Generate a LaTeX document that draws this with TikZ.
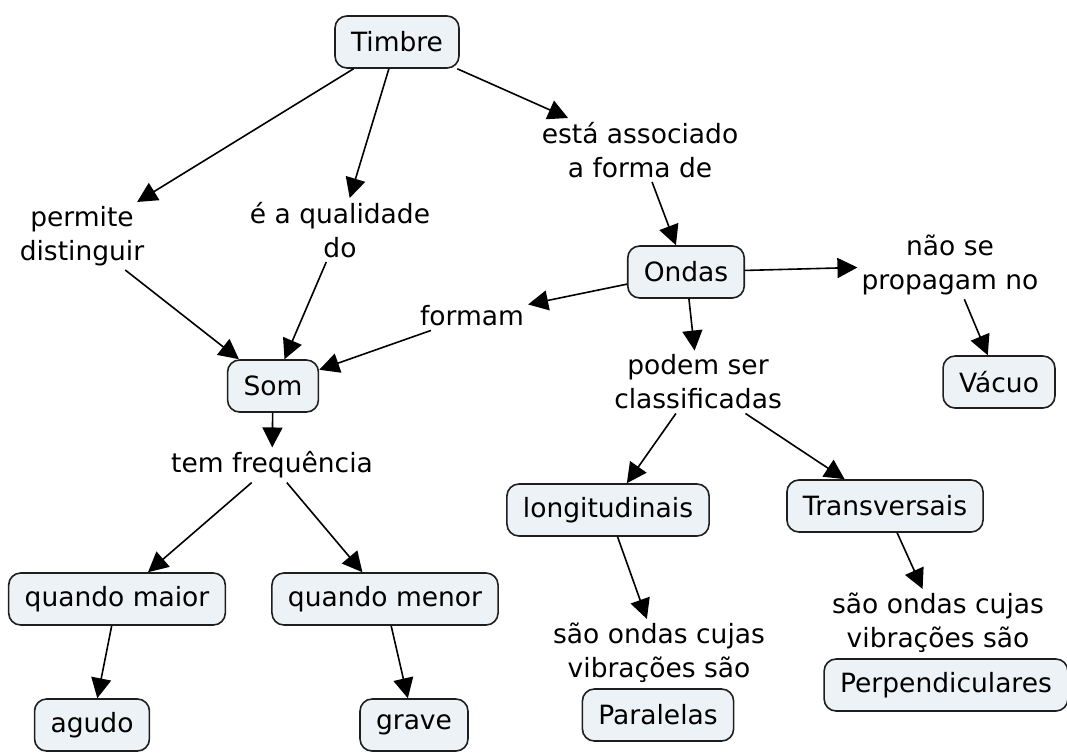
\documentclass[tikz,border=0pt]{standalone}
\usepackage{fontspec}
\setmainfont{DejaVu Sans}
\usetikzlibrary{arrows.meta}
\definecolor{cfill}{RGB}{236,242,245}
\definecolor{cline}{RGB}{30,30,30}
\begin{document}
\begin{tikzpicture}[x=1pt,y=1pt,
  concept/.style={draw=cline, line width=1.6pt, rounded corners=12pt, fill=cfill,
    inner xsep=16pt, inner ysep=0pt, minimum height=52pt, font=\fontsize{26.5}{34}\selectfont},
  lbl/.style={inner sep=4pt, align=center, font=\fontsize{26.5}{34}\selectfont},
  conn/.style={line width=1.6pt, draw=black, -{Triangle[length=20pt,width=20pt]}}]
\useasboundingbox (0,0) rectangle (1067,-753);
% concepts
\node[concept] (timbre) at (397,-42) {Timbre};
\node[concept] (ondas) at (686,-272) {Ondas};
\node[concept] (vacuo) at (999,-382) {Vácuo};
\node[concept] (som) at (273,-386) {Som};
\node[concept] (longi) at (608,-510) {longitudinais};
\node[concept] (trans) at (885,-506) {Transversais};
\node[concept] (qmaior) at (117,-599) {quando maior};
\node[concept] (qmenor) at (385,-599) {quando menor};
\node[concept] (agudo) at (92,-725) {agudo};
\node[concept] (grave) at (414,-725) {grave};
\node[concept] (paral) at (658,-715) {Paralelas};
\node[concept] (perp) at (946,-685) {Perpendiculares};
% linking phrases
\node[lbl] (permite) at (82,-236) {permite\\distinguir};
\node[lbl] (qualid) at (340,-230) {é a qualidade\\do};
\node[lbl] (assoc) at (640,-150) {está associado\\a forma de};
\node[lbl] (naose) at (950,-265) {não se\\propagam no};
\node[lbl] (formam) at (472,-316) {formam};
\node[lbl] (podem) at (698,-382) {podem ser\\classificadas};
\node[lbl] (temfreq) at (272,-465) {tem frequência};
\node[lbl] (saoL) at (659,-653) {são ondas cujas\\vibrações são};
\node[lbl] (saoR) at (938,-623) {são ondas cujas\\vibrações são};
% connectors
\draw[conn] (timbre) -- (permite);
\draw[conn] (permite) -- (som);
\draw[conn] (timbre) -- (qualid);
\draw[conn] (qualid) -- (som);
\draw[conn] (timbre) -- (assoc);
\draw[conn] (assoc) -- (ondas);
\draw[conn] (ondas) -- (naose);
\draw[conn] (naose) -- (vacuo);
\draw[conn] (ondas) -- (formam);
\draw[conn] (formam) -- (som);
\draw[conn] (ondas) -- (podem);
\draw[conn] (podem) -- (longi);
\draw[conn] (podem) -- (trans);
\draw[conn] (som) -- (temfreq);
\draw[conn] (temfreq) -- (qmaior);
\draw[conn] (temfreq) -- (qmenor);
\draw[conn] (qmaior) -- (agudo);
\draw[conn] (qmenor) -- (grave);
\draw[conn] (longi) -- (saoL);
\draw[conn] (trans) -- (saoR);
\end{tikzpicture}
\end{document}
